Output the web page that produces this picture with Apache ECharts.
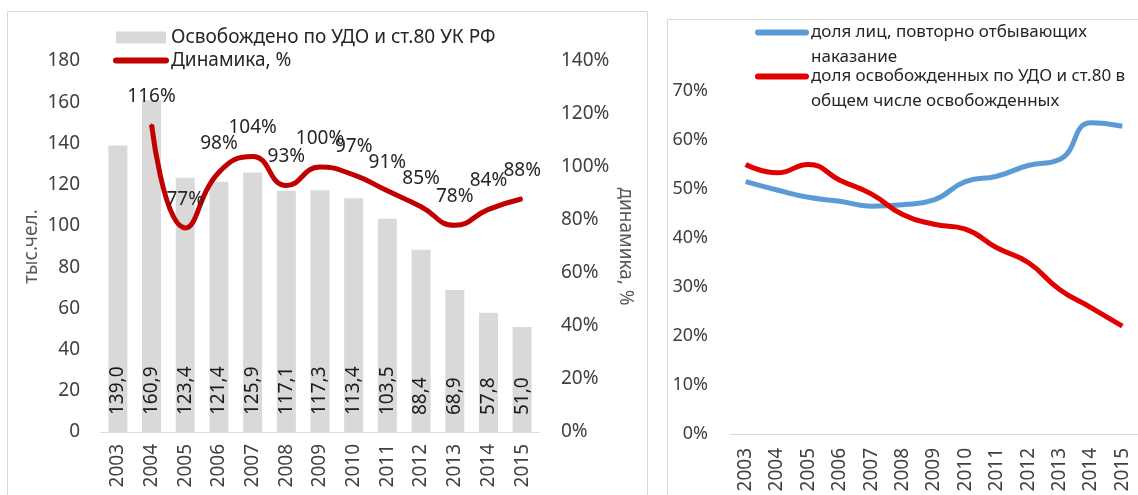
<!DOCTYPE html>
<html>
<head>
<meta charset="utf-8">
<script src="https://cdn.jsdelivr.net/npm/echarts@6/dist/echarts.min.js"></script>
<style>html,body{margin:0;padding:0;background:#fff}#c{width:1138px;height:495px}</style>
</head>
<body>
<div id="c"></div>
<script>
// ---- data ----
const years = ['2003','2004','2005','2006','2007','2008','2009','2010','2011','2012','2013','2014','2015'];
const releasedThousands = [139.0,160.9,123.4,121.4,125.9,117.1,117.3,113.4,103.5,88.4,68.9,57.8,51.0];
const dynamicsPct = [null,116,77,98,104,93,100,97,91,85,78,84,88];
const repeatSharePct = [51.5,49.8,48.3,47.5,46.5,46.8,47.8,51.5,52.6,54.8,56.0,63.5,62.8];
const paroleSharePct = [55.0,53.3,55.0,51.8,49.0,44.8,42.8,41.8,38.0,35.0,29.5,25.8,22.0];
const leftAxisTicks = {min:0, max:180, interval:20};
const rightAxisTicks = {min:0, max:140, interval:20};
const shareAxisTicks = {min:0, max:70, interval:10};
const names = {
  bars: 'Освобождено по УДО и ст.80 УК РФ',
  dyn: 'Динамика, %',
  repeat: 'доля лиц, повторно отбывающих',
  parole: 'доля освобожденных по УДО и ст.80 в'
};
const nameSecondLines = {};
nameSecondLines[names.repeat] = 'наказание';
nameSecondLines[names.parole] = 'общем числе освобожденных';

const FONT = 'Noto Sans';
const TXT = '#404040';
const FS = 19;

const chart = echarts.init(document.getElementById('c'));
chart.setOption({
  animation: false,
  textStyle: {fontFamily: FONT},
  graphic: [
    {type:'rect', shape:{x:7.5,y:11.5,width:640,height:520}, style:{fill:'none', stroke:'#d9d9d9', lineWidth:1}, silent:true},
    {type:'rect', shape:{x:667.5,y:19.5,width:520,height:520}, style:{fill:'none', stroke:'#d9d9d9', lineWidth:1}, silent:true}
  ],
  legend: [
    {
      left: 108, top: 23, orient: 'vertical', itemGap: 4, itemWidth: 50, itemHeight: 12,
      textStyle: {fontSize: FS, color: '#262626', fontFamily: FONT},
      data: [
        {name: names.bars, icon: 'rect'},
        {name: names.dyn, itemStyle: {opacity: 0}, lineStyle: {width: 6, cap: 'round'}}
      ]
    },
    {
      left: 750, top: -6, orient: 'vertical', itemGap: -23, itemWidth: 48, itemHeight: 10,
      formatter: n => '{s| }\n{t|' + n + '}\n{t|' + nameSecondLines[n] + '}',
      textStyle: {
        fontSize: 17, color: '#262626', fontFamily: FONT,
        rich: {
          s: {fontSize: 17, lineHeight: 25, fontFamily: FONT},
          t: {fontSize: 17, lineHeight: 25, color: '#262626', fontFamily: FONT}
        }
      },
      data: [
        {name: names.repeat, itemStyle: {opacity: 0}, lineStyle: {width: 6, cap: 'round'}},
        {name: names.parole, itemStyle: {opacity: 0}, lineStyle: {width: 6, cap: 'round'}}
      ]
    }
  ],
  grid: [
    {left: 101, top: 61, width: 438, height: 371},
    {left: 730, top: 91, width: 419, height: 343}
  ],
  xAxis: [
    {
      type: 'category', gridIndex: 0, data: years,
      axisLine: {lineStyle: {color: '#d9d9d9'}}, axisTick: {show: false},
      axisLabel: {rotate: 90, fontSize: FS, color: TXT, margin: 12, interval: 0}
    },
    {
      type: 'category', gridIndex: 1, data: years,
      axisLine: {lineStyle: {color: '#d9d9d9'}}, axisTick: {show: false},
      axisLabel: {rotate: 90, fontSize: FS, color: TXT, margin: 14, interval: 0}
    }
  ],
  yAxis: [
    {
      type: 'value', gridIndex: 0, position: 'left',
      min: leftAxisTicks.min, max: leftAxisTicks.max, interval: leftAxisTicks.interval,
      splitLine: {show: false}, axisLine: {show: false}, axisTick: {show: false},
      axisLabel: {fontSize: FS, color: TXT, margin: 21},
      name: 'тыс.чел.', nameLocation: 'middle', nameRotate: 90, nameGap: 60,
      nameTextStyle: {fontSize: FS, color: '#595959'}
    },
    {
      type: 'value', gridIndex: 0, position: 'right',
      min: rightAxisTicks.min, max: rightAxisTicks.max, interval: rightAxisTicks.interval,
      splitLine: {show: false}, axisLine: {show: false}, axisTick: {show: false},
      axisLabel: {fontSize: FS, color: TXT, margin: 22, formatter: '{value}%'},
      name: 'динамика, %', nameLocation: 'middle', nameRotate: -90, nameGap: 77,
      nameTextStyle: {fontSize: FS, color: '#595959'}
    },
    {
      type: 'value', gridIndex: 1,
      min: shareAxisTicks.min, max: shareAxisTicks.max, interval: shareAxisTicks.interval,
      splitLine: {show: false}, axisLine: {show: false}, axisTick: {show: false},
      axisLabel: {fontSize: 18, color: TXT, margin: 22, formatter: '{value}%'}
    }
  ],
  series: [
    {
      name: names.bars, type: 'bar', xAxisIndex: 0, yAxisIndex: 0,
      data: releasedThousands, barWidth: 19,
      itemStyle: {color: '#d9d9d9'},
      label: {
        show: true, position: 'insideBottom', rotate: 90, align: 'left', verticalAlign: 'middle',
        distance: 17, fontSize: FS, color: '#1a1a1a',
        formatter: p => p.value.toFixed(1).replace('.', ',')
      }
    },
    {
      name: names.dyn, type: 'line', xAxisIndex: 0, yAxisIndex: 1,
      data: dynamicsPct, smooth: true, symbol: 'circle', symbolSize: 2, showSymbol: true,
      color: '#c00000',
      lineStyle: {width: 5, color: '#c00000'},
      label: {show: true, position: 'top', distance: 18, fontSize: FS, color: '#262626',
        formatter: p => p.value + '%'}
    },
    {
      name: names.repeat, type: 'line', xAxisIndex: 1, yAxisIndex: 2,
      data: repeatSharePct, smooth: true, symbol: 'none', color: '#5b9bd5',
      lineStyle: {width: 5, color: '#5b9bd5'}
    },
    {
      name: names.parole, type: 'line', xAxisIndex: 1, yAxisIndex: 2,
      data: paroleSharePct, smooth: true, symbol: 'none', color: '#e00000',
      lineStyle: {width: 5, color: '#e00000'}
    }
  ]
});
</script>
</body>
</html>
